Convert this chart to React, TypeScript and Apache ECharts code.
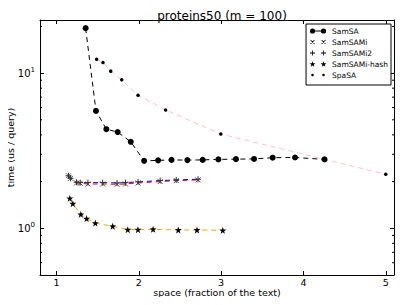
import React, { useEffect, useRef } from "react";
import * as echarts from "echarts";

const TITLE = "proteins50 (m = 100)";
const X_NAME = "space (fraction of the text)";
const Y_NAME = "time (us / query)";
const X_TICKS = [1, 2, 3, 4, 5];
const Y_MINOR_TICKS = [0.6, 0.7, 0.8, 0.9, 2, 3, 4, 5, 6, 7, 8, 9, 20];
const LEGEND_NAMES = ["SamSA", "SamSAMi", "SamSAMi2", "SamSAMi-hash", "SpaSA"];

const samsaX = [1.354, 1.48, 1.606, 1.744, 1.902, 2.065, 2.235, 2.398, 2.59, 2.776, 2.967, 3.18, 3.4, 3.626, 3.898, 4.256];
const samsaY = [19.5, 5.71, 4.35, 4.17, 3.61, 2.72, 2.74, 2.76, 2.75, 2.76, 2.78, 2.79, 2.8, 2.85, 2.86, 2.78];

const samiX = [1.146, 1.171, 1.244, 1.289, 1.382, 1.561, 1.736, 1.838, 1.991, 2.26, 2.455, 2.72];
const samiY = [2.18, 2.1, 1.96, 1.95, 1.93, 1.93, 1.92, 1.93, 1.96, 2.0, 2.03, 2.05];
const sami2Y = [2.18, 2.1, 1.98, 1.97, 1.97, 1.97, 1.96, 1.97, 1.99, 2.03, 2.05, 2.07];

const hashX = [1.162, 1.199, 1.296, 1.366, 1.472, 1.683, 1.866, 1.99, 2.174, 2.48, 2.707, 3.02];
const hashY = [1.56, 1.44, 1.23, 1.155, 1.08, 1.03, 0.98, 0.98, 0.985, 0.975, 0.975, 0.97];

const spasaX = [1.488, 1.565, 1.659, 1.793, 1.991, 2.326, 2.996, 5.0];
const spasaY = [12.3, 11.7, 10.3, 9.05, 7.21, 5.79, 4.05, 2.23];

const zip = (xs: number[], ys: number[]) => xs.map((x, i) => [x, ys[i]]);

const STAR =
  "path://M5,0 L6.2,3.5 L10,3.6 L7,5.9 L8.1,9.6 L5,7.4 L1.9,9.6 L3,5.9 L0,3.6 L3.8,3.5 Z";
const XMARK = "path://M0,0 L10,10 M10,0 L0,10";
const PLUS = "path://M5,0 L5,10 M0,5 L10,5";

const FONT = "DejaVu Sans";

// legend icon helpers (filled shapes)
const seg = (x1: number, y1: number, x2: number, y2: number, w: number) => {
  const dx = x2 - x1, dy = y2 - y1;
  const L = Math.hypot(dx, dy);
  const nx = (-dy / L) * (w / 2), ny = (dx / L) * (w / 2);
  return `M${x1 + nx},${y1 + ny} L${x2 + nx},${y2 + ny} L${x2 - nx},${y2 - ny} L${x1 - nx},${y1 - ny} Z `;
};
const circ = (cx: number, cy: number, r: number) =>
  `M${cx - r},${cy} A${r},${r} 0 1,0 ${cx + r},${cy} A${r},${r} 0 1,0 ${cx - r},${cy} Z `;
const star = (cx: number, cy: number, R: number) => {
  let d = "";
  for (let i = 0; i < 10; i++) {
    const r = i % 2 === 0 ? R : R * 0.42;
    const a = -Math.PI / 2 + (i * Math.PI) / 5;
    d += `${i === 0 ? "M" : "L"}${cx + r * Math.cos(a)},${cy + r * Math.sin(a)} `;
  }
  return d + "Z ";
};
const C1 = 3.5, C2 = 14.5, CY = 3.5;
const frame = "M0,0 L0.01,0 Z M18,7 L17.99,7 Z ";
const ICONS: Record<string, string> = {
  SamSA: "path://" + frame + circ(C1, CY, 2.6) + circ(C2, CY, 2.6) + seg(C1, CY, C2, CY, 0.8),
  SamSAMi:
    "path://" + frame +
    seg(C1 - 2, CY - 2, C1 + 2, CY + 2, 0.8) + seg(C1 + 2, CY - 2, C1 - 2, CY + 2, 0.8) +
    seg(C2 - 2, CY - 2, C2 + 2, CY + 2, 0.8) + seg(C2 + 2, CY - 2, C2 - 2, CY + 2, 0.8),
  SamSAMi2:
    "path://" + frame +
    seg(C1 - 2.5, CY, C1 + 2.5, CY, 0.8) + seg(C1, CY - 2.5, C1, CY + 2.5, 0.8) +
    seg(C2 - 2.5, CY, C2 + 2.5, CY, 0.8) + seg(C2, CY - 2.5, C2, CY + 2.5, 0.8),
  "SamSAMi-hash": "path://" + frame + star(C1, CY + 0.3, 3) + star(C2, CY + 0.3, 3),
  SpaSA: "path://" + frame + circ(C1, CY, 1.3) + circ(C2, CY, 1.3),
};

export default function App() {
  const ref = useRef<HTMLDivElement>(null);
  useEffect(() => {
    if (!ref.current) return;
    const chart = echarts.init(ref.current, null, { renderer: "svg" });
    const dashed = (color: string) => ({ color, width: 1, type: [5, 4] as any });
    const supFmt = (v: number) => {
      const e = Math.log10(v);
      const r = Math.round(e);
      if (Math.abs(e - r) < 1e-6 && (r === 0 || r === 1)) return `10{s|${r}}`;
      return "";
    };
    const option: any = {
      animation: false,
      backgroundColor: "#fff",
      textStyle: { fontFamily: FONT },
      title: {
        text: TITLE,
        left: 217,
        top: 5,
        textAlign: "center",
        textStyle: { fontFamily: FONT, fontSize: 12, fontWeight: "normal", color: "#000" },
      },
      legend: {
        orient: "vertical",
        right: 16,
        top: 24,
        padding: [2.5, 3, 5.5, 3],
        itemGap: 2,
        itemWidth: 18,
        itemHeight: 7,
        backgroundColor: "#fff",
        borderColor: "#000",
        borderWidth: 1,
        borderRadius: 0,
        textStyle: { fontFamily: FONT, fontSize: 7.5, lineHeight: 9, color: "#000" },
        data: LEGEND_NAMES.map((n) => ({ name: n, icon: ICONS[n], itemStyle: { color: "#000", borderWidth: 0 } })),
      },
      grid: { left: 40, right: 13, top: 20, bottom: 30, containLabel: false, outerBoundsMode: "none" },
      xAxis: [
        {
          type: "value",
          min: 0.8,
          max: 5.1,
          name: X_NAME,
          nameLocation: "middle",
          nameGap: 12,
          nameMoveOverlap: false,
          nameTextStyle: { fontFamily: FONT, fontSize: 9.5, color: "#000" },
          axisLine: { show: true, lineStyle: { color: "#000", width: 1 } },
          axisTick: { show: true, inside: true, length: 4, customValues: X_TICKS, lineStyle: { color: "#000" } },
          axisLabel: { customValues: X_TICKS, fontFamily: FONT, fontSize: 9.5, color: "#000", margin: 2 },
          splitLine: { show: false },
        },
        {
          type: "value",
          position: "top",
          min: 0.8,
          max: 5.1,
          axisLine: { show: true, onZero: false, lineStyle: { color: "#000", width: 1 } },
          axisTick: { show: true, inside: true, length: 4, customValues: X_TICKS, lineStyle: { color: "#000" } },
          axisLabel: { show: false },
          splitLine: { show: false },
        },
      ],
      yAxis: [
        {
          type: "log",
          logBase: 10,
          min: 0.5,
          max: 22,
          name: Y_NAME,
          nameLocation: "middle",
          nameGap: 25,
          nameRotate: 90,
          nameMoveOverlap: false,
          nameTextStyle: { fontFamily: FONT, fontSize: 9.5, color: "#000" },
          axisLine: { show: true, lineStyle: { color: "#000", width: 1 } },
          axisTick: { show: true, inside: true, length: 4, lineStyle: { color: "#000" } },
          axisLabel: {
            formatter: supFmt,
            showMinLabel: false,
            showMaxLabel: false,
            fontFamily: FONT,
            fontSize: 10,
            color: "#000",
            margin: 5,
            rich: { s: { fontSize: 7, verticalAlign: "top", padding: [0, 0, 7, 0], fontFamily: FONT, color: "#000" } },
          },
          splitLine: { show: false },
        },
        {
          type: "log",
          logBase: 10,
          min: 0.5,
          max: 22,
          position: "right",
          axisLine: { show: true, onZero: false, lineStyle: { color: "#000", width: 1 } },
          axisTick: { show: true, inside: true, length: 4, lineStyle: { color: "#000" } },
          axisLabel: { show: false },
          splitLine: { show: false },
        },
      ],
      series: [
        {
          name: "SamSA",
          type: "line",
          data: zip(samsaX, samsaY),
          symbol: "circle",
          symbolSize: 6,
          itemStyle: { color: "#000" },
          lineStyle: dashed("#000"),
        },
        {
          name: "SamSAMi",
          type: "line",
          data: zip(samiX, samiY),
          symbol: XMARK,
          symbolSize: 5,
          itemStyle: { color: "#555", borderColor: "#555", borderWidth: 1 },
          lineStyle: dashed("#ff0000"),
        },
        {
          name: "SamSAMi2",
          type: "line",
          data: zip(samiX, sami2Y),
          symbol: PLUS,
          symbolSize: 6,
          itemStyle: { color: "#333", borderColor: "#333", borderWidth: 1 },
          lineStyle: dashed("#0000ff"),
        },
        {
          name: "SamSAMi-hash",
          type: "line",
          data: zip(hashX, hashY),
          symbol: STAR,
          symbolSize: 7,
          itemStyle: { color: "#000" },
          lineStyle: dashed("#ffa500"),
        },
        {
          name: "SpaSA",
          type: "line",
          data: zip(spasaX, spasaY),
          symbol: "circle",
          symbolSize: 3.5,
          itemStyle: { color: "#000" },
          lineStyle: dashed("#ffc0cb"),
        },
        {
          name: "minorTicks",
          type: "custom",
          silent: true,
          data: Y_MINOR_TICKS.map((v) => [1, v]),
          renderItem: (params: any, api: any) => {
            const y = api.coord([1, api.value(1)])[1];
            const cs = params.coordSys;
            return {
              type: "group",
              children: [
                { type: "line", shape: { x1: cs.x, y1: y, x2: cs.x + 2, y2: y }, style: { stroke: "#000", lineWidth: 1 } },
                {
                  type: "line",
                  shape: { x1: cs.x + cs.width, y1: y, x2: cs.x + cs.width - 2, y2: y },
                  style: { stroke: "#000", lineWidth: 1 },
                },
              ],
            };
          },
        },
      ],
    };
    chart.setOption(option);
    return () => chart.dispose();
  }, []);
  return <div ref={ref} style={{ width: 407, height: 305, margin: -8 }} />;
}
